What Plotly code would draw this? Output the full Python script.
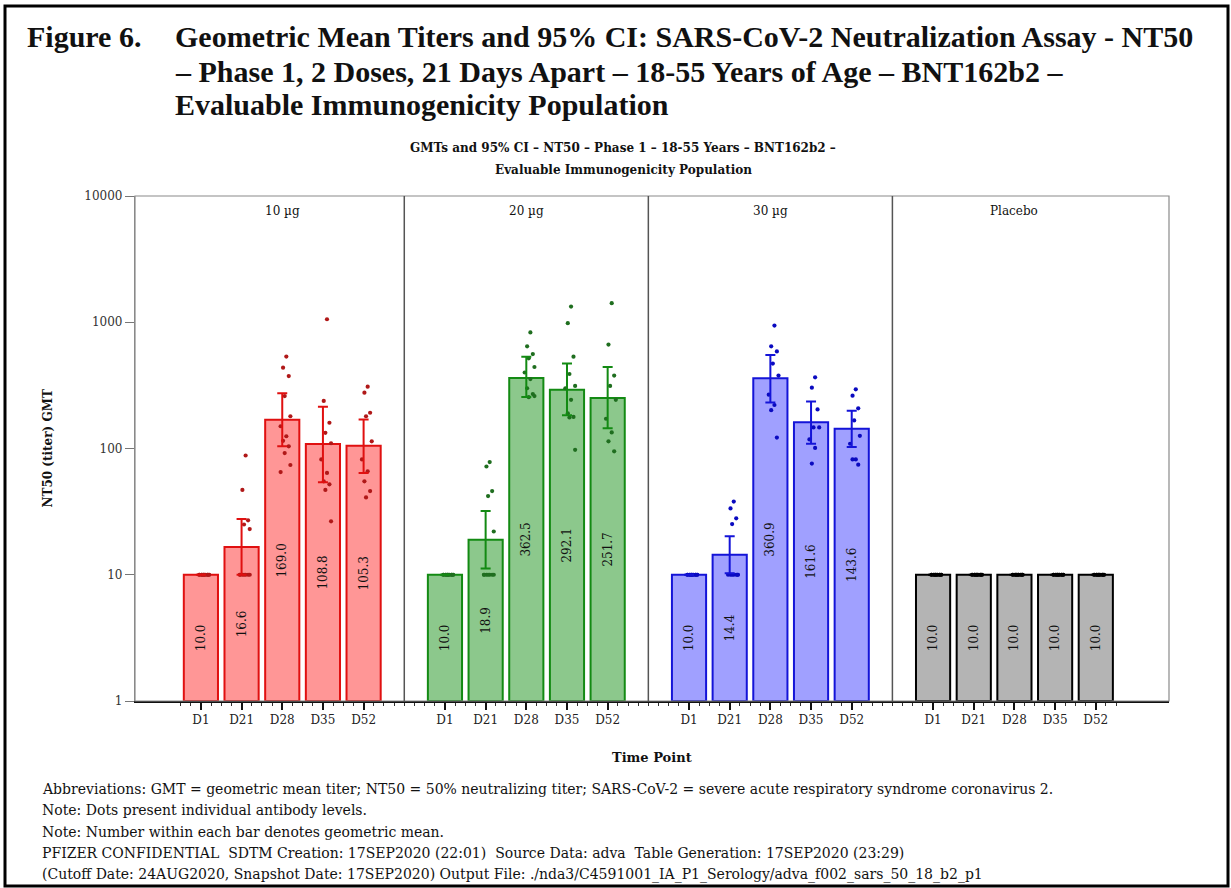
import plotly.graph_objects as go

# ---------------- data ----------------
groups = ["10 µg", "20 µg", "30 µg", "Placebo"]
timepoints = ["D1", "D21", "D28", "D35", "D52"]

gmt_10 = [10.0, 16.6, 169.0, 108.8, 105.3]
gmt_20 = [10.0, 18.9, 362.5, 292.1, 251.7]
gmt_30 = [10.0, 14.4, 360.9, 161.6, 143.6]
gmt_pl = [10.0, 10.0, 10.0, 10.0, 10.0]

lo_10 = [10.0, 10.0, 104.0, 54.0, 64.0]
hi_10 = [10.0, 27.6, 274.0, 214.0, 170.0]
lo_20 = [10.0, 11.2, 256.0, 183.0, 145.0]
hi_20 = [10.0, 32.0, 534.0, 471.0, 442.0]
lo_30 = [10.0, 10.3, 231.0, 109.0, 103.0]
hi_30 = [10.0, 20.2, 551.0, 236.0, 199.0]
lo_pl = [10.0, 10.0, 10.0, 10.0, 10.0]
hi_pl = [10.0, 10.0, 10.0, 10.0, 10.0]

dots_10 = [
    [10, 10, 10, 10, 10, 10, 10, 10, 10, 10, 10, 10],
    [88, 47, 27, 25, 23, 10, 10, 10, 10, 10, 10, 10],
    [535, 437, 375, 260, 180, 150, 125, 115, 104, 92, 74, 65],
    [1056, 238, 160, 133, 110, 82, 64, 55, 52, 47, 26.5],
    [309, 277, 192, 180, 114, 82, 66, 55, 46, 41],
]
dots_20 = [
    [10, 10, 10, 10, 10, 10, 10, 10, 10, 10, 10, 10],
    [78, 72, 46, 42, 22, 10, 10, 10, 10, 10, 10, 10],
    [830, 645, 560, 518, 442, 400, 355, 300, 270, 255, 260],
    [1330, 984, 534, 389, 313, 300, 243, 190, 178, 176, 97.6],
    [1415, 665, 378, 313, 243, 172, 134, 114, 95],
]
dots_30 = [
    [10, 10, 10, 10, 10, 10, 10, 10, 10, 10, 10, 10],
    [38, 33.5, 28, 25.2, 10, 10, 10, 10, 10, 10, 10],
    [942, 645, 587, 471, 378, 267, 221, 201, 122],
    [366, 303, 204, 147, 147, 118, 101, 76],
    [294, 262, 208, 167, 126, 109, 82, 82, 74.5],
]
dots_pl = [
    [10, 10, 10, 10, 10, 10, 10, 10, 10, 10, 10, 10],
    [10, 10, 10, 10, 10, 10, 10, 10, 10, 10, 10, 10],
    [10, 10, 10, 10, 10, 10, 10, 10, 10, 10, 10, 10],
    [10, 10, 10, 10, 10, 10, 10, 10, 10, 10, 10, 10],
    [10, 10, 10, 10, 10, 10, 10, 10, 10, 10, 10, 10],
]

y_tick_vals = [1, 10, 100, 1000, 10000]
y_tick_text = ["1", "10", "100", "1000", "10000"]

title_lines = [
    "Geometric Mean Titers and 95% CI: SARS-CoV-2 Neutralization Assay - NT50",
    "– Phase 1, 2 Doses, 21 Days Apart – 18-55 Years of Age – BNT162b2 –",
    "Evaluable Immunogenicity Population",
]
subtitle_lines = [
    "GMTs and 95% CI – NT50 – Phase 1 – 18-55 Years – BNT162b2 –",
    "Evaluable Immunogenicity Population",
]
footnotes = [
    "Abbreviations: GMT = geometric mean titer; NT50 = 50% neutralizing titer; SARS-CoV-2 = severe acute respiratory syndrome coronavirus 2.",
    "Note: Dots present individual antibody levels.",
    "Note: Number within each bar denotes geometric mean.",
    "PFIZER CONFIDENTIAL  SDTM Creation: 17SEP2020 (22:01)  Source Data: adva  Table Generation: 17SEP2020 (23:29)",
    "(Cutoff Date: 24AUG2020, Snapshot Date: 17SEP2020) Output File: ./nda3/C4591001_IA_P1_Serology/adva_f002_sars_50_18_b2_p1",
]

# ---------------- styling ----------------
FONT = "DejaVu Serif"
TFONT = "Liberation Serif"
W, H = 1231, 888
L, R, T, B = 135, 62, 196, 187
PW, PH = W - L - R, H - T - B

fills = ["#FF9696", "#8CC88C", "#A0A0FF", "#B4B4B4"]
edges = ["#E01010", "#138A13", "#1414D8", "#000000"]
dotc = ["#B01818", "#1F6E1F", "#0A0AC0", "#000000"]

SLOT = 6  # five time points + one blank separator slot per group


def px_x(p):
    return (p - L) / PW


def px_y(p):
    return (H - B - p) / PH


gmts = [gmt_10, gmt_20, gmt_30, gmt_pl]
los = [lo_10, lo_20, lo_30, lo_pl]
his = [hi_10, hi_20, hi_30, hi_pl]
dots = [dots_10, dots_20, dots_30, dots_pl]
jitter = [0.10, 0.02, 0.16, 0.06, 0.20, -0.04]

fig = go.Figure()

for g, name in enumerate(groups):
    xs = [g * SLOT + i for i in range(len(timepoints))]
    gm = gmts[g]
    fig.add_trace(go.Bar(
        x=xs, y=[v - 1 for v in gm], base=1, width=0.84,
        marker=dict(color=fills[g], line=dict(color=edges[g], width=2)),
        text=[f"{v:.1f}" for v in gm], textposition="inside",
        insidetextanchor="middle", textangle=-90, constraintext="none",
        textfont=dict(family=FONT, size=12, color="#111"),
        showlegend=False, hoverinfo="skip",
    ))
    # individual dots
    dx, dy = [], []
    for i, vals in enumerate(dots[g]):
        for k, v in enumerate(vals):
            dx.append(xs[i] + jitter[k % len(jitter)])
            dy.append(v)
    fig.add_trace(go.Scatter(
        x=dx, y=dy, mode="markers",
        marker=dict(size=4.2, color=dotc[g]),
        showlegend=False, hoverinfo="skip",
    ))
    # 95% CI
    fig.add_trace(go.Scatter(
        x=xs, y=gm, mode="markers", marker=dict(size=1, opacity=0),
        error_y=dict(type="data", symmetric=False,
                     array=[h - v for h, v in zip(his[g], gm)],
                     arrayminus=[v - l for v, l in zip(gm, los[g])],
                     color=edges[g], thickness=2, width=5),
        showlegend=False, hoverinfo="skip",
    ))

all_x = [g * SLOT + i for g in range(len(groups)) for i in range(len(timepoints))]
all_text = [t for _ in groups for t in timepoints]

shapes = []
shapes.append(dict(type="rect", xref="paper", yref="paper", x0=0, x1=1, y0=0, y1=1,
                   line=dict(color="#8a8a8a", width=1.2), layer="above"))
for g in range(1, len(groups)):
    shapes.append(dict(type="line", xref="x", yref="paper", x0=g * SLOT - 1, x1=g * SLOT - 1,
                       y0=0, y1=1, line=dict(color="#555", width=1.5)))
shapes.append(dict(type="rect", xref="paper", yref="paper",
                   x0=px_x(5), x1=px_x(1228), y0=px_y(886), y1=px_y(6),
                   line=dict(color="black", width=3)))

ann = []


def add_text(x, y, text, size, family=FONT, xanchor="center", xref="paper", yshift=0, angle=0):
    ann.append(dict(x=x, y=y, xref=xref, yref="paper", xanchor=xanchor, yanchor="middle",
                    text=text, showarrow=False, yshift=yshift, textangle=angle,
                    font=dict(family=family, size=size, color="#111")))


for g, name in enumerate(groups):
    add_text(g * SLOT + 2, 1, name, 12, xref="x", yshift=-15)

add_text(px_x(25), px_y(37), "<b>Figure 6.</b>", 30, family=TFONT, xanchor="left")
for line, py in zip(title_lines, [37, 71, 104]):
    add_text(px_x(173), px_y(py), f"<b>{line}</b>", 30, family=TFONT, xanchor="left")
for line, py in zip(subtitle_lines, [148, 170]):
    add_text(px_x(623), px_y(py), f"<b>{line}</b>", 12)
add_text(px_x(47), 0.5, "<b>NT50 (titer) GMT</b>", 12, angle=-90)
add_text(0.5, px_y(757), "<b>Time Point</b>", 13)
for line, py in zip(footnotes, [789, 810, 832, 853, 875]):
    add_text(px_x(40), px_y(py), line, 14, xanchor="left")

minor_vals = [k * 0.25 for k in range(-2, 91)]

fig.update_layout(
    width=W, height=H,
    margin=dict(l=L, r=R, t=T, b=B, pad=0),
    paper_bgcolor="white", plot_bgcolor="white",
    barmode="overlay",
    shapes=shapes, annotations=ann,
    xaxis=dict(range=[-1.62, 23.8], tickmode="array", tickvals=all_x, ticktext=all_text,
               ticks="outside", ticklen=7, tickwidth=1.5, tickcolor="#111",
               showline=True, linecolor="#111", linewidth=2, showgrid=False, zeroline=False,
               tickfont=dict(family=FONT, size=12, color="#222"),
               minor=dict(tickmode="array", tickvals=minor_vals, ticks="outside",
                          ticklen=3, tickwidth=1, tickcolor="#333", showgrid=False)),
    yaxis=dict(type="log", range=[0, 4], tickmode="array", tickvals=y_tick_vals,
               ticktext=y_tick_text, ticks="outside", ticklen=9, tickwidth=1,
               tickcolor="#777", showline=True, linecolor="#8a8a8a", linewidth=1.2,
               showgrid=False, zeroline=False,
               tickfont=dict(family=FONT, size=12, color="#333")),
)

fig.write_html("out.html")
